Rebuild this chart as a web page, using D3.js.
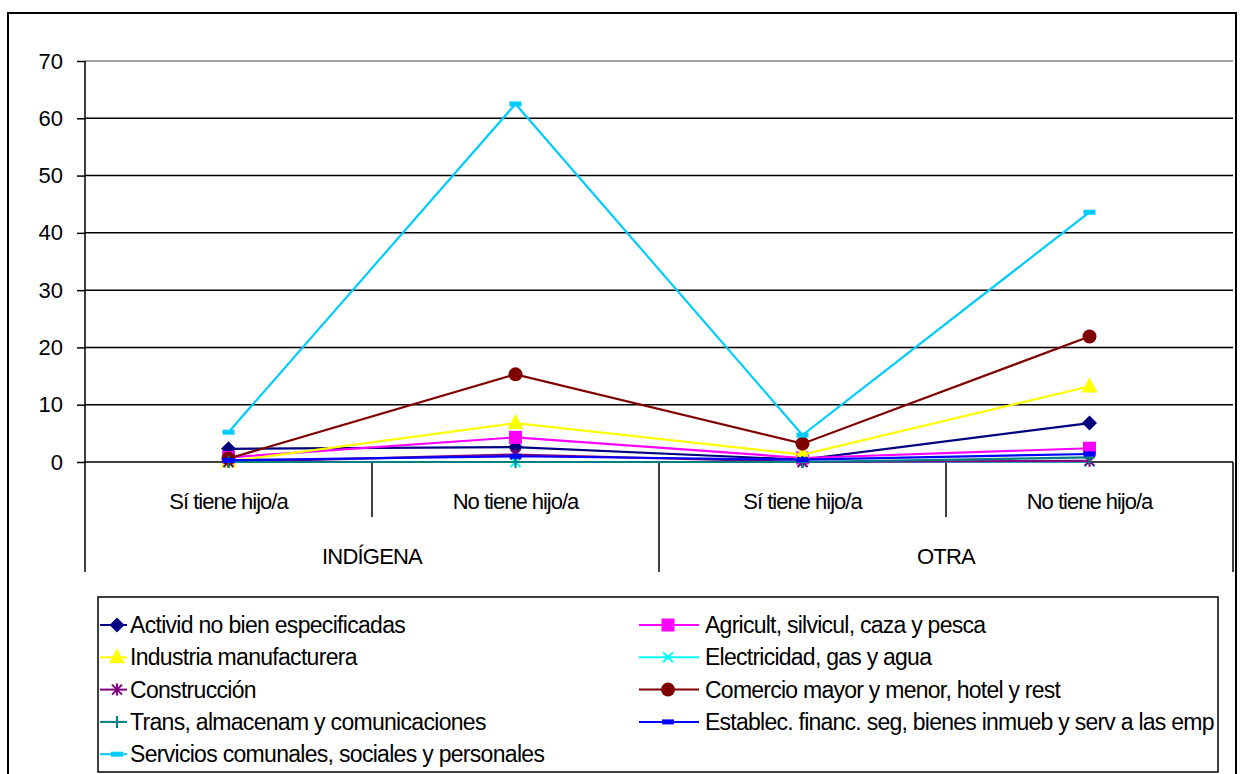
<!DOCTYPE html>
<html><head><meta charset="utf-8">
<script src="https://cdn.jsdelivr.net/npm/d3@7"></script>
<style>body{margin:0;background:#fff}svg{display:block;font-family:"Liberation Sans",Arial,sans-serif}</style>
</head><body><svg id="c" width="1242" height="774"></svg>
<script>
const categories = ["Sí tiene hijo/a","No tiene hijo/a","Sí tiene hijo/a","No tiene hijo/a"];
const groups = ["INDÍGENA","OTRA"];
const yTicks = [0,10,20,30,40,50,60,70];
const seriesNames = ["Activid no bien especificadas","Agricult, silvicul, caza y pesca","Industria manufacturera","Electricidad, gas y agua","Construcción","Comercio mayor y menor, hotel y rest","Trans, almacenam y comunicaciones","Establec. financ. seg, bienes inmueb y serv a las emp","Servicios comunales, sociales y personales"];
const seriesColors = ["#000080","#FF00FF","#FFFF00","#00FFFF","#800080","#800000","#008080","#0000FF","#00CCFF"];
const seriesMarkers = ["diamond","square","triangle","x","star","circle","plus","dash","dash"];
const activid = [2.3,2.6,0.4,6.8];
const agricult = [0.8,4.3,0.7,2.4];
const industria = [0.1,6.8,1.3,13.2];
const electricidad = [0,0,0,0.1];
const construccion = [0,1.3,0,0.2];
const comercio = [0.6,15.3,3.2,21.9];
const trans = [0,0,0,0.8];
const establec = [0.3,1.0,0.4,1.4];
const servicios = [5.2,62.5,4.7,43.6];
const seriesValues = [activid,agricult,industria,electricidad,construccion,comercio,trans,establec,servicios];

const svg = d3.select("#c");
const L=85,R=1233,T=61,B=462;
svg.append("rect").attr("x",8).attr("y",13).attr("width",1228).attr("height",770).attr("fill","none").attr("stroke","#000").attr("stroke-width",2);

const x = d3.scaleBand().domain(d3.range(categories.length)).range([L,R]);
const y = d3.scaleLinear().domain([0,70]).range([B,T]);

// gridlines
svg.append("g").selectAll("line").data(yTicks).join("line")
  .attr("x1",L).attr("x2",R).attr("y1",d=>y(d)).attr("y2",d=>y(d))
  .attr("stroke",d=>d===70?"#808080":"#000").attr("stroke-width",1.5);
// y axis
const ya = svg.append("g").attr("transform",`translate(${L},0)`).call(d3.axisLeft(y).tickValues(yTicks).tickSize(8).tickPadding(14));
ya.select(".domain").attr("stroke","#000").attr("stroke-width",1.5).attr("d",`M-0,${T}V${B}`);
ya.selectAll(".tick line").attr("stroke","#000").attr("stroke-width",1.5);
ya.selectAll(".tick text").attr("font-size",22).attr("fill","#000").attr("font-family","Liberation Sans, Arial, sans-serif");

// category axis
const cg = svg.append("g");
const seps = [0,1,2,3,4].map(i=>({x: i<4? x(i): R, long: i%2===0}));
cg.selectAll("line").data(seps).join("line")
  .attr("x1",d=>d.x).attr("x2",d=>d.x).attr("y1",B).attr("y2",d=>d.long?572:517)
  .attr("stroke","#000").attr("stroke-width",1.5);
cg.selectAll("text.cat").data(categories).join("text").attr("class","cat")
  .attr("x",(d,i)=>x(i)+x.bandwidth()/2).attr("y",509).attr("text-anchor","middle")
  .attr("font-size",22).attr("letter-spacing","-1").text(d=>d);
cg.selectAll("text.grp").data(groups).join("text").attr("class","grp")
  .attr("x",(d,i)=>x(i*2)+x.bandwidth()).attr("y",564).attr("text-anchor","middle")
  .attr("font-size",22).attr("letter-spacing","-0.8").text(d=>d);

function marker(g,type,color,cx,cy){
  if(type==="diamond") g.append("path").attr("d",`M${cx},${cy-7.5}L${cx+7.5},${cy}L${cx},${cy+7.5}L${cx-7.5},${cy}Z`).attr("fill",color);
  else if(type==="square") g.append("rect").attr("x",cx-6.5).attr("y",cy-6.5).attr("width",13).attr("height",13).attr("fill",color);
  else if(type==="triangle") g.append("path").attr("d",`M${cx},${cy-9}L${cx+8},${cy+6}L${cx-8},${cy+6}Z`).attr("fill",color);
  else if(type==="circle") g.append("circle").attr("cx",cx).attr("cy",cy).attr("r",7).attr("fill",color);
  else if(type==="x") g.append("path").attr("d",`M${cx-5},${cy-5}L${cx+5},${cy+5}M${cx-5},${cy+5}L${cx+5},${cy-5}`).attr("stroke",color).attr("stroke-width",2);
  else if(type==="star") g.append("path").attr("d",`M${cx-5},${cy-5}L${cx+5},${cy+5}M${cx-5},${cy+5}L${cx+5},${cy-5}M${cx},${cy-6}V${cy+6}`).attr("stroke",color).attr("stroke-width",2);
  else if(type==="plus") g.append("path").attr("d",`M${cx-5},${cy}H${cx+5}M${cx},${cy-6}V${cy+6}`).attr("stroke",color).attr("stroke-width",2);
  else if(type==="dash") g.append("rect").attr("x",cx-6).attr("y",cy-2.5).attr("width",12).attr("height",5).attr("fill",color);
}

const line = d3.line().x((d,i)=>x(i)+x.bandwidth()/2).y(d=>y(d));
seriesValues.forEach((vals,s)=>{
  const g = svg.append("g");
  g.append("path").attr("d",line(vals)).attr("fill","none").attr("stroke",seriesColors[s]).attr("stroke-width",2.2);
  vals.forEach((v,i)=>marker(g,seriesMarkers[s],seriesColors[s],x(i)+x.bandwidth()/2,y(v)));
});

// legend
const lg = svg.append("g");
lg.append("rect").attr("x",98).attr("y",597).attr("width",1120).attr("height",175).attr("fill","#fff").attr("stroke","#000").attr("stroke-width",1.5);
seriesNames.forEach((n,s)=>{
  const col = s%2, row = Math.floor(s/2);
  const yy = 625+row*32.3;
  const g = lg.append("g");
  if(col===0){
    g.append("line").attr("x1",100).attr("x2",127).attr("y1",yy).attr("y2",yy).attr("stroke",seriesColors[s]).attr("stroke-width",2);
    marker(g,seriesMarkers[s],seriesColors[s],117,yy);
    g.append("text").attr("x",130).attr("y",yy+8).attr("font-size",23).attr("letter-spacing","-0.7").text(n);
  } else {
    g.append("line").attr("x1",639).attr("x2",699).attr("y1",yy).attr("y2",yy).attr("stroke",seriesColors[s]).attr("stroke-width",2);
    marker(g,seriesMarkers[s],seriesColors[s],668,yy);
    g.append("text").attr("x",705).attr("y",yy+8).attr("font-size",23).attr("letter-spacing","-0.75").text(n);
  }
});
</script></body></html>
